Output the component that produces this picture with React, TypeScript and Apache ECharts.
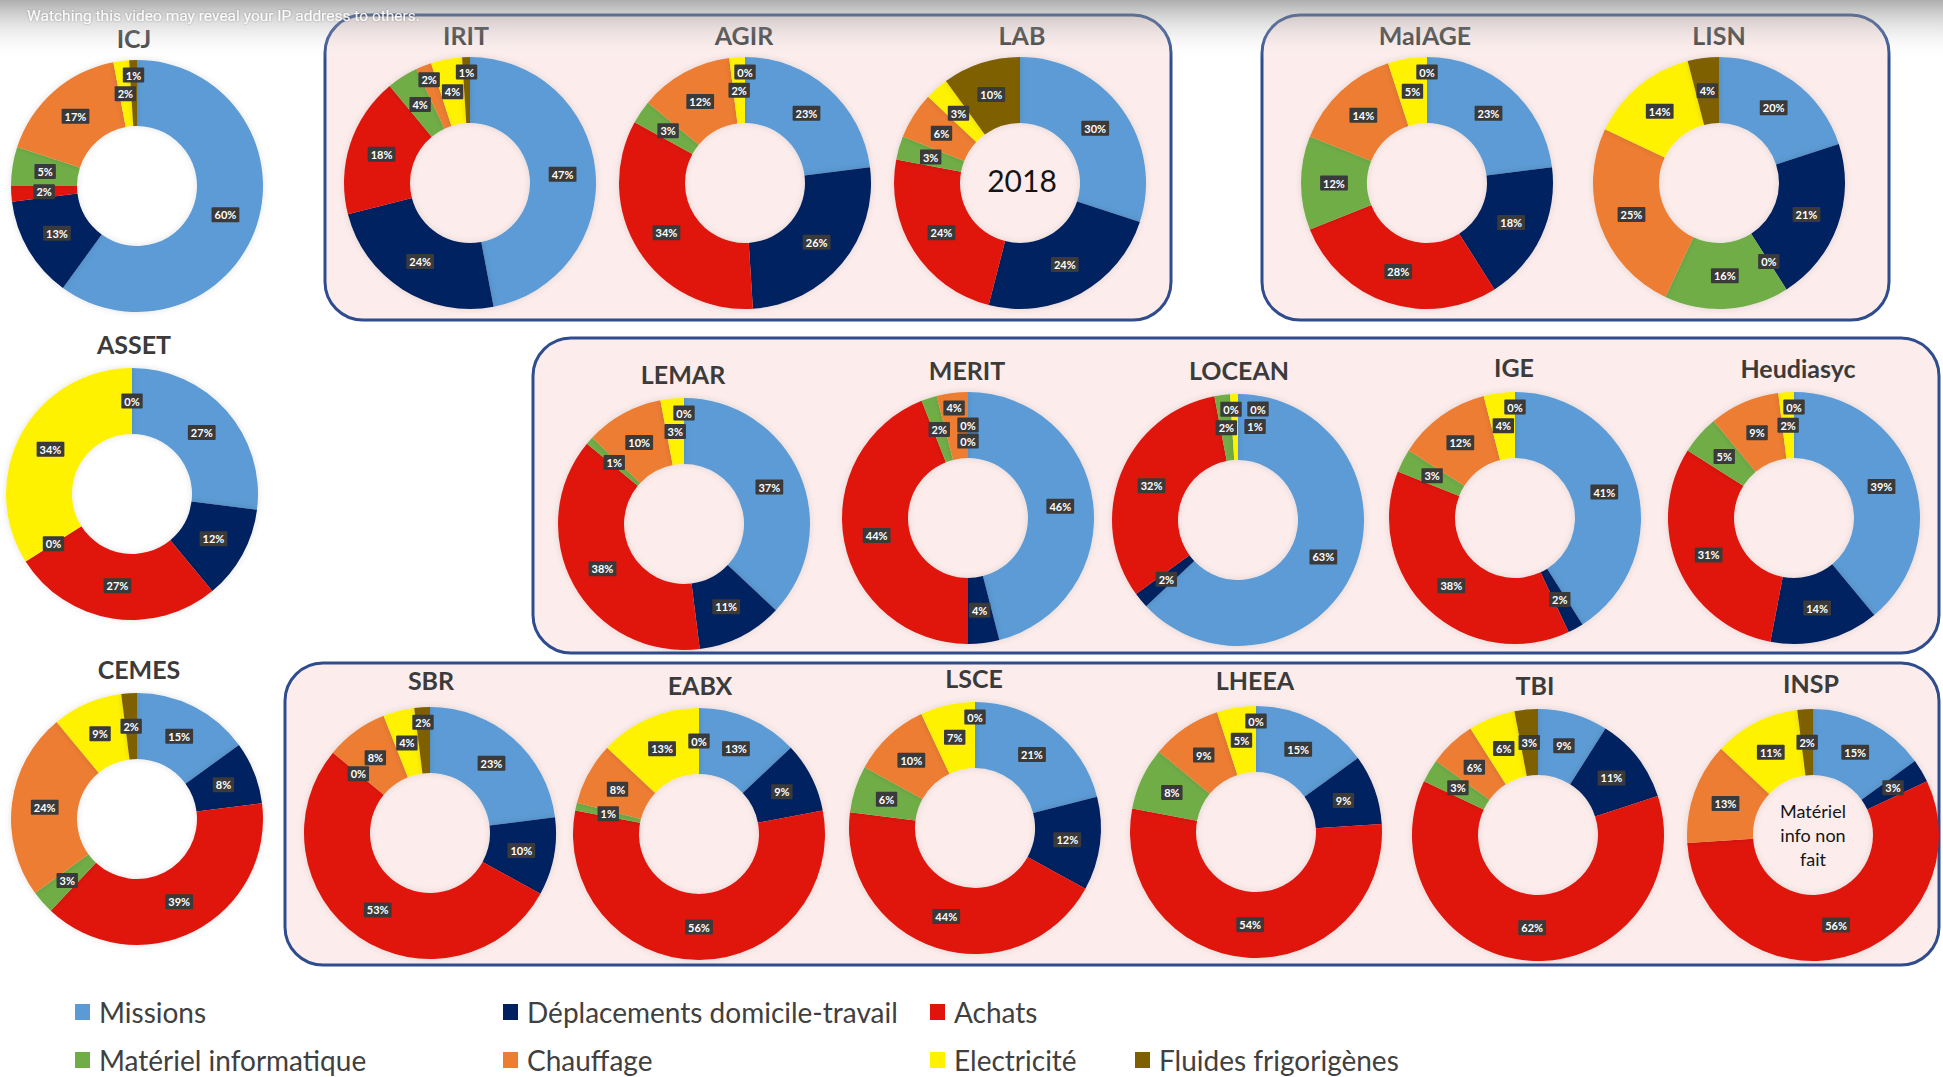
import React, { useEffect, useRef } from "react";
import * as echarts from "echarts";

// ---------- DATA ----------
const categories = [
  "Missions",
  "Déplacements domicile-travail",
  "Achats",
  "Matériel informatique",
  "Chauffage",
  "Electricité",
  "Fluides frigorigènes",
];

// values in % : Missions, Déplacements, Achats, Matériel info, Chauffage, Electricité, Fluides
// (null = not reported, no slice / no label)
const ICJ = [60, 13, 2, 5, 17, 2, 1];
const IRIT = [47, 24, 18, 4, 2, 4, 1];
const AGIR = [23, 26, 34, 3, 12, 2, 0];
const LAB = [30, 24, 24, 3, 6, 3, 10];
const MaIAGE = [23, 18, 28, 12, 14, 5, 0];
const LISN = [20, 21, 0, 16, 25, 14, 4];
const ASSET = [27, 12, 27, 0, null, 34, 0];
const LEMAR = [37, 11, 38, 1, 10, 3, 0];
const MERIT = [46, 4, 44, 2, 4, 0, 0];
const LOCEAN = [63, 2, 32, 2, 0, 1, 0];
const IGE = [41, 2, 38, 3, 12, 4, 0];
const Heudiasyc = [39, 14, 31, 5, 9, 2, 0];
const CEMES = [15, 8, 39, 3, 24, 9, 2];
const SBR = [23, 10, 53, 0, 8, 4, 2];
const EABX = [13, 9, 56, 1, 8, 13, 0];
const LSCE = [21, 12, 44, 6, 10, 7, 0];
const LHEEA = [15, 9, 54, 8, 9, 5, 0];
const TBI = [9, 11, 62, 3, 6, 6, 3];
const INSP = [15, 3, 56, null, 13, 11, 2]; // matériel info non fait

const labValues: Record<string, (number | null)[]> = {
  ICJ, IRIT, AGIR, LAB, MaIAGE, LISN, ASSET, LEMAR, MERIT, LOCEAN, IGE,
  Heudiasyc, CEMES, SBR, EABX, LSCE, LHEEA, TBI, INSP,
};

const centerNotes: Record<string, string> = {
  LAB: "2018",
  INSP: "Matériel\ninfo non\nfait",
};

// ---------- LAYOUT / STYLE ----------
const categoryColors = ["#5B9BD5", "#002060", "#E0140C", "#70AD47", "#ED7D31", "#FFF200", "#7F6000"];

const layout: Record<string, { cx: number; cy: number; tx: number; ty: number }> = {
  ICJ: { cx: 137, cy: 186, tx: 134, ty: 38 },
  IRIT: { cx: 470, cy: 183, tx: 466, ty: 35 },
  AGIR: { cx: 745, cy: 183, tx: 744, ty: 35 },
  LAB: { cx: 1020, cy: 183, tx: 1022, ty: 35 },
  MaIAGE: { cx: 1427, cy: 183, tx: 1425, ty: 35 },
  LISN: { cx: 1719, cy: 183, tx: 1719, ty: 35 },
  ASSET: { cx: 132, cy: 494, tx: 134, ty: 344 },
  LEMAR: { cx: 684, cy: 524, tx: 683, ty: 374 },
  MERIT: { cx: 968, cy: 518, tx: 967, ty: 370 },
  LOCEAN: { cx: 1238, cy: 520, tx: 1239, ty: 370 },
  IGE: { cx: 1515, cy: 518, tx: 1514, ty: 367 },
  Heudiasyc: { cx: 1794, cy: 518, tx: 1798, ty: 368 },
  CEMES: { cx: 137, cy: 819, tx: 139, ty: 669 },
  SBR: { cx: 430, cy: 833, tx: 431, ty: 680 },
  EABX: { cx: 699, cy: 834, tx: 700, ty: 685 },
  LSCE: { cx: 975, cy: 828, tx: 974, ty: 678 },
  LHEEA: { cx: 1256, cy: 832, tx: 1255, ty: 680 },
  TBI: { cx: 1538, cy: 835, tx: 1535, ty: 685 },
  INSP: { cx: 1813, cy: 835, tx: 1811, ty: 683 },
};

const R_IN = 60;
const R_OUT = 126;

const boxes = [
  { x: 325, y: 15, w: 846, h: 305 },
  { x: 1262, y: 15, w: 627, h: 305 },
  { x: 533, y: 338, w: 1406, h: 315 },
  { x: 285, y: 663, w: 1654, h: 302 },
];

const legendPos = [
  { name: categories[0], left: 75, top: 998 },
  { name: categories[1], left: 503, top: 998 },
  { name: categories[2], left: 930, top: 998 },
  { name: categories[3], left: 75, top: 1046 },
  { name: categories[4], left: 503, top: 1046 },
  { name: categories[5], left: 930, top: 1046 },
  { name: categories[6], left: 1135, top: 1046 },
];

const FONT = "Lato, 'Open Sans', 'Liberation Sans', sans-serif";

export default function App() {
  const ref = useRef<HTMLDivElement>(null);

  useEffect(() => {
    if (!ref.current) return;
    const chart = echarts.init(ref.current, undefined, { renderer: "svg" });

    const names = Object.keys(labValues);

    // per-series record of placed label boxes (keeps small-slice labels apart, like Excel's best fit)
    const placed: Record<number, ({ x: number; y: number; w: number; h: number } | undefined)[]> = {};
    const rMid = (R_IN + R_OUT) / 2;
    const rOut = R_OUT - 15;
    const rIn = R_IN + 17;
    const candidates = [
      [rMid, 0], [rOut, 0], [rIn, 0],
      [rMid, 20], [rMid, -20], [rOut, 20], [rOut, -20], [rIn, 20], [rIn, -20],
      [rMid, 32], [rMid, -32], [rOut, 34], [rOut, -34],
    ];
    const makeLabelLayout = (seriesIdx: number, lab: string) => (params: any) => {
      const p = layout[lab];
      const lr = params.labelRect;
      const w = lr.width;
      const h = lr.height;
      const lx = lr.x + w / 2;
      const ly = lr.y + h / 2;
      let ux = lx - p.cx;
      let uy = ly - p.cy;
      const len = Math.sqrt(ux * ux + uy * uy) || 1;
      ux /= len;
      uy /= len;
      // tangential direction (clockwise)
      const tx = -uy;
      const ty = ux;
      const list = (placed[seriesIdx] = placed[seriesIdx] || []);
      const prev = list.slice(0, params.dataIndex).filter(Boolean) as any[];
      const collides = (x: number, y: number) =>
        prev.some((q) => Math.abs(q.x - x) < (q.w + w) / 2 + 1 && Math.abs(q.y - y) < (q.h + h) / 2 + 0.5);
      let best = { x: p.cx + ux * rMid, y: p.cy + uy * rMid };
      for (const [r, s] of candidates) {
        const x = p.cx + ux * r + tx * s;
        const y = p.cy + uy * r + ty * s;
        if (!collides(x, y)) {
          best = { x, y };
          break;
        }
      }
      list[params.dataIndex] = { x: best.x, y: best.y, w, h };
      return { x: best.x, y: best.y, align: "center", verticalAlign: "middle" };
    };

    const series: any[] = names.map((lab, si) => {
      const pos = layout[lab];
      const vals = labValues[lab];
      const data = vals
        .map((v, i) =>
          v === null
            ? null
            : { name: categories[i], value: v, itemStyle: { color: categoryColors[i] } }
        )
        .filter((d) => d !== null);
      return {
        type: "pie",
        name: lab,
        center: [pos.cx, pos.cy],
        radius: [R_IN, R_OUT],
        startAngle: 90,
        clockwise: true,
        avoidLabelOverlap: false,
        silent: true,
        itemStyle: { borderWidth: 0, shadowBlur: 6, shadowColor: "rgba(0,0,0,0.12)" },
        label: {
          show: true,
          position: "inside",
          formatter: "{c}%",
          color: "#ffffff",
          fontSize: 11,
          fontWeight: "bold",
          fontFamily: FONT,
          backgroundColor: "#3A3A3A",
          padding: [2, 3, 2, 3],
          borderRadius: 1,
        },
        labelLayout: makeLabelLayout(si, lab),
        labelLine: { show: false },
        emphasis: { disabled: true },
        data,
      };
    });

    const graphics: any[] = [];
    boxes.forEach((b) => {
      graphics.push({
        type: "rect",
        z: -10,
        shape: { x: b.x, y: b.y, width: b.w, height: b.h, r: 38 },
        style: { fill: "#FCEDEC", stroke: "#2E4C8E", lineWidth: 3 },
      });
    });
    names.forEach((lab) => {
      const p = layout[lab];
      graphics.push({
        type: "text",
        z: 5,
        x: p.tx,
        y: p.ty,
        style: {
          text: lab,
          align: "center",
          verticalAlign: "middle",
          fill: "#3B3B3B",
          font: `bold 25px ${FONT}`,
        },
      });
      if (centerNotes[lab]) {
        const isYear = lab === "LAB";
        graphics.push({
          type: "text",
          z: 5,
          x: p.cx + (isYear ? 2 : 0),
          y: p.cy - (isYear ? 3 : 0),
          style: {
            text: centerNotes[lab],
            align: "center",
            verticalAlign: "middle",
            fill: "#141414",
            font: isYear ? `30px ${FONT}` : `18px ${FONT}`,
            lineHeight: 24,
          },
        });
      }
    });
    // video overlay at top
    graphics.push({
      type: "rect",
      z: 100,
      shape: { x: 0, y: 0, width: 1943, height: 60 },
      style: {
        fill: new echarts.graphic.LinearGradient(0, 0, 0, 1, [
          { offset: 0, color: "rgba(120,120,120,0.6)" },
          { offset: 1, color: "rgba(255,255,255,0)" },
        ]),
      },
    });
    graphics.push({
      type: "text",
      z: 101,
      x: 27,
      y: 16,
      style: {
        text: "Watching this video may reveal your IP address to others.",
        fill: "rgba(255,255,255,0.92)",
        font: `15.5px Roboto, 'Liberation Sans', sans-serif`,
        verticalAlign: "middle",
        textShadowColor: "rgba(0,0,0,0.35)",
        textShadowBlur: 2,
      },
    });

    const legends = legendPos.map((l) => ({
      data: [l.name],
      left: l.left,
      top: l.top,
      orient: "horizontal",
      icon: "rect",
      itemWidth: 15,
      itemHeight: 16,
      itemGap: 0,
      padding: 0,
      selectedMode: false,
      textStyle: { fontSize: 28, color: "#404040", fontFamily: FONT, padding: [0, 0, 0, 4] },
    }));

    chart.setOption({
      animation: false,
      backgroundColor: "#ffffff",
      legend: legends,
      graphic: graphics,
      series,
    });

    return () => chart.dispose();
  }, []);

  return (
    <div
      ref={ref}
      style={{ position: "fixed", left: 0, top: 0, width: 1943, height: 1077, background: "#fff" }}
    />
  );
}
